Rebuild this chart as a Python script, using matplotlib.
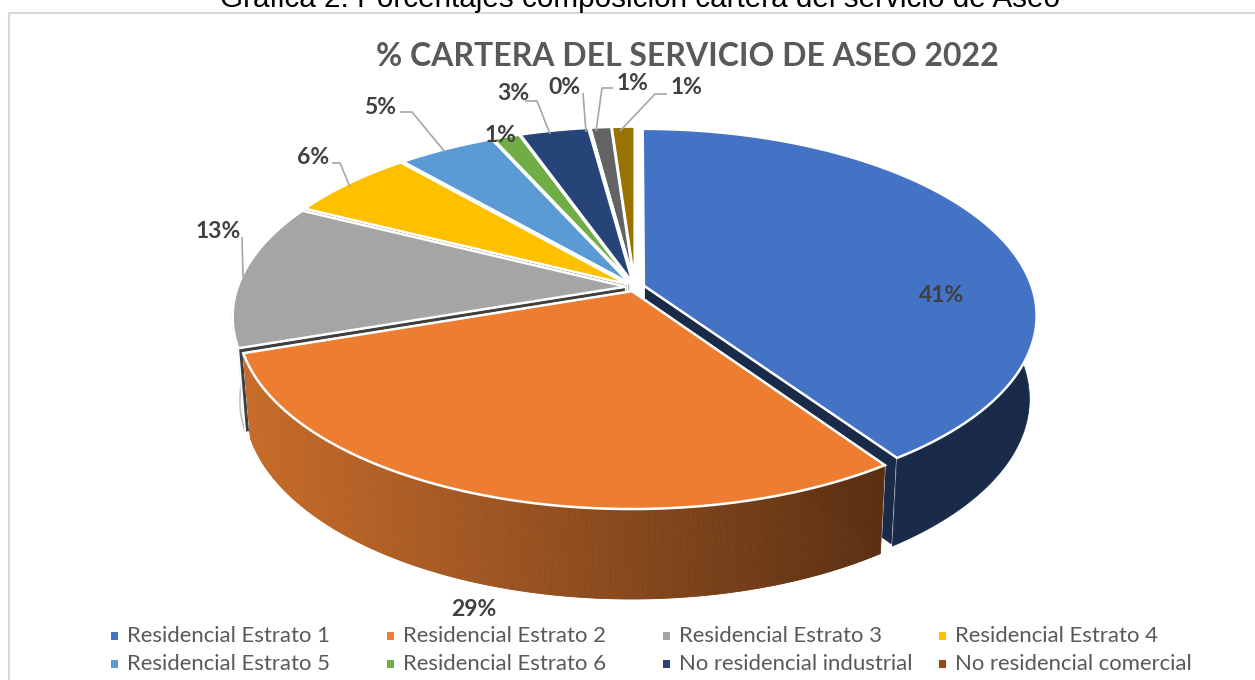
import numpy as np
import matplotlib
matplotlib.use("Agg")
import matplotlib.pyplot as plt
from matplotlib.colors import to_rgb
from matplotlib.patches import Rectangle

HEADER = "Gráfica 2: Porcentajes composición cartera del servicio de Aseo"
TITLE = "% CARTERA DEL SERVICIO DE ASEO 2022"
categories = ["Residencial Estrato 1", "Residencial Estrato 2", "Residencial Estrato 3",
              "Residencial Estrato 4", "Residencial Estrato 5", "Residencial Estrato 6",
              "No residencial industrial", "No residencial comercial",
              "No residencial oficial", "Otros"]
values = [40.5, 29.4, 12.6, 6.2, 4.7, 1.3, 3.3, 0.05, 1.0, 1.1]
labels = ["41%", "29%", "13%", "6%", "5%", "1%", "3%", "0%", "1%", "1%"]
colors = ["#4472C4", "#ED7D31", "#A5A5A5", "#FFC000", "#5B9BD5", "#70AD47",
          "#264478", "#9E480E", "#636363", "#997300"]
legend_count = 8

W, H = 1255, 680
fig = plt.figure(figsize=(W / 100, H / 100), dpi=100, facecolor="white")
ax = fig.add_axes([0, 0, 1, 1])
ax.set_xlim(0, W)
ax.set_ylim(H, 0)
ax.axis("off")

# frame
ax.add_patch(Rectangle((8.5, 13), W, H, fc="white", ec="#D9D9D9", lw=1.5, zorder=0))

# perspective disc
CX, CY, RX, RY, K, EXPL = 635, 287, 388, 182, 0.158, 0.024


def project(x, y):
    f = 1 + K * y
    return CX + RX * x / f, CY - RY * y / f


def lower(px, py):
    s = 0.982
    return CX + (px - CX) * s, py + 90 - 0.035 * (510 - py)


def darken(c, f):
    return tuple(v * f for v in to_rgb(c))


fractions = np.array(values) / sum(values)
edges = np.concatenate([[0], np.cumsum(fractions)]) * 2 * np.pi


def wedge(i):
    a0, a1 = edges[i], edges[i + 1]
    mid = (a0 + a1) / 2
    th = np.linspace(a0, a1, max(8, int((a1 - a0) * 90)))
    ox, oy = EXPL * np.sin(mid), EXPL * np.cos(mid)
    rx, ry = project(np.sin(th) + ox, np.cos(th) + oy)
    ax_, ay_ = project(ox, oy)
    return ax_, ay_, rx, ry


order = [9, 8, 7, 6, 5, 4, 3, 2, 0, 1]
for z, i in enumerate(order):
    ax0, ay0, rx, ry = wedge(i)
    bx, by = lower(rx, ry)
    bax, bay = lower(ax0, ay0)
    base = 2 + z * 4
    face = darken(colors[i], 0.38)
    # side wall (the thin grey one is nearly white in the reference)
    wall_z = base + 2 if i != 2 else base
    face_z = base + 1
    if i == 1:
        left = np.array(to_rgb("#C76C2A"))
        right = np.array(to_rgb("#5A2F12"))
        dense = np.linspace(0, len(rx) - 1, 500)
        idx = np.arange(len(rx))
        tx, ty = np.interp(dense, idx, rx), np.interp(dense, idx, ry)
        ux, uy = lower(tx, ty)
        for j in range(len(tx) - 1):
            t = (tx[j] - 249) / (889 - 249)
            col = left + (right - left) * np.clip(t, 0, 1)
            ax.fill([tx[j], tx[j + 1], ux[j + 1], ux[j]], [ty[j], ty[j + 1], uy[j + 1], uy[j]],
                    fc=col, ec=col, lw=0.6, zorder=wall_z)
    elif i == 2:
        ax.fill(np.r_[rx, bx[::-1]], np.r_[ry, by[::-1]], fc="white", ec="#C4C4C4", lw=1.2, zorder=wall_z)
    else:
        ax.fill(np.r_[rx, bx[::-1]], np.r_[ry, by[::-1]], fc=face, ec=face, lw=0.5, zorder=wall_z)
    # radial cut faces
    for px, py, qx, qy in ((rx[-1], ry[-1], bx[-1], by[-1]), (rx[0], ry[0], bx[0], by[0])):
        ax.fill([ax0, px, qx, bax], [ay0, py, qy, bay], fc=face, ec="white", lw=1.2, zorder=face_z)
    # top
    ax.fill(np.r_[ax0, rx], np.r_[ay0, ry], fc=colors[i], ec="white", lw=1.8,
            joinstyle="miter", zorder=base + 3)

# labels
lab_xy = [(941, 295), (474, 608), (218, 230), (313, 157), (380, 107),
          (501, 134), (513, 93), (564, 86), (632, 82), (686, 87)]
leaders = [None, None,
           [(242, 237), (243, 277)],
           [(332, 163), (340, 163), (350, 187)],
           [(400, 112), (412, 112), (445, 152)],
           None,
           [(525, 101), (537, 101), (550, 134)],
           [(583, 93), (586, 132)],
           [(613, 88), (602, 88), (596, 131)],
           [(667, 94), (655, 94), (620, 131)]]
for txt, (x, y), lead in zip(labels, lab_xy, leaders):
    if lead:
        ax.plot(*zip(*lead), color="#A6A6A6", lw=1.2, zorder=60, solid_capstyle="butt")
    ax.text(x, y + 1, txt, ha="center", va="center", family="Lato", weight="bold",
            fontsize=16.5, color="#404040", zorder=70)

# titles
ax.text(687, 56.5, TITLE, ha="center", va="center", family="Lato", weight="bold",
        fontsize=23, color="#595959", zorder=70)
ax.text(640, -1, HEADER, ha="center", va="center", family="Liberation Sans",
        fontsize=21.3, color="black", zorder=70)

# legend
for n, (name, col) in enumerate(zip(categories[:legend_count], colors[:legend_count])):
    x = 127 + 276 * (n % 4)
    y = 636 + 28 * (n // 4)
    ax.add_patch(Rectangle((x - 16, y - 4.5), 7, 8, fc=col, ec="none", zorder=70))
    ax.text(x, y - 0.5, name, ha="left", va="center", family="Lato", fontsize=15.9,
            color="#595959", zorder=70)

fig.savefig("out.png", dpi=100, facecolor="white")
